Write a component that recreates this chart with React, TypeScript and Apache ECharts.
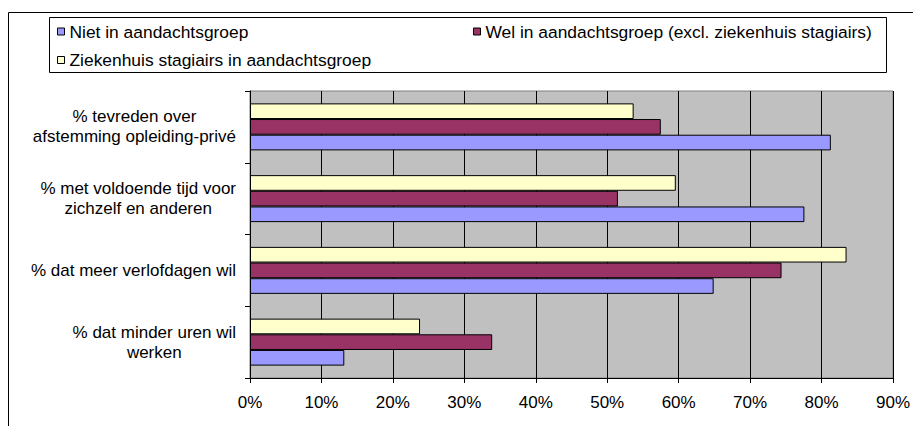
import React, { useEffect, useRef } from "react";
import * as echarts from "echarts";

const categories = [
  "% tevreden over\nafstemming opleiding-privé",
  "% met voldoende tijd voor\nzichzelf en anderen",
  "% dat meer verlofdagen wil",
  "% dat minder uren wil\nwerken",
];
const seriesNames = [
  "Niet in aandachtsgroep",
  "Wel in aandachtsgroep (excl. ziekenhuis stagiairs)",
  "Ziekenhuis stagiairs in aandachtsgroep",
];
const nietValues = [81.3, 77.6, 64.9, 13.2];
const welValues = [57.5, 51.5, 74.4, 33.9];
const ziekenhuisValues = [53.7, 59.6, 83.5, 23.8];
const xTicks = [0, 10, 20, 30, 40, 50, 60, 70, 80, 90];

const colors = ["#9999FF", "#993366", "#FFFFCC"];
const FONT = '"Liberation Sans", Arial, sans-serif';

export default function App() {
  const ref = useRef<HTMLDivElement>(null);
  useEffect(() => {
    if (!ref.current) return;
    const chart = echarts.init(ref.current, null, { renderer: "svg" });
    const values = [nietValues, welValues, ziekenhuisValues];
    const legendPos = [
      { left: 57, top: 23 },
      { left: 473, top: 23 },
      { left: 57, top: 51.5 },
    ];
    // ECharts places the first series at the top of a band; draw in reverse so
    // the first series sits at the bottom as in the reference.
    const drawOrder = [2, 1, 0];
    const option: any = {
      animation: false,
      backgroundColor: "#ffffff",
      textStyle: { fontFamily: FONT },
      graphic: [
        {
          type: "rect",
          z: -10,
          shape: { x: 8.5, y: 12.5, width: 1000, height: 1000 },
          style: { fill: "#ffffff", stroke: "#000000", lineWidth: 1 },
        },
        {
          type: "rect",
          z: -5,
          shape: { x: 49.5, y: 17.5, width: 837, height: 55 },
          style: { fill: "#ffffff", stroke: "#000000", lineWidth: 1 },
        },
      ],
      legend: seriesNames.map((n, i) => ({
        data: [n],
        left: legendPos[i].left,
        top: legendPos[i].top,
        padding: 0,
        icon: "rect",
        itemWidth: 7,
        itemHeight: 7,
        itemStyle: { borderColor: "#000", borderWidth: 1 },
        textStyle: { fontSize: 17.4, color: "#000", fontFamily: FONT },
        selectedMode: false,
      })),
      grid: {
        left: 250,
        right: 20,
        top: 91,
        bottom: 48,
        show: true,
        backgroundColor: "#C0C0C0",
        borderColor: "#808080",
        borderWidth: 1,
        containLabel: false,
      },
      xAxis: {
        type: "value",
        min: 0,
        max: 90,
        interval: 10,
        axisLine: { show: true, lineStyle: { color: "#000", width: 1 } },
        axisTick: { show: true, length: 5, lineStyle: { color: "#000" } },
        splitLine: { show: true, lineStyle: { color: "#000", width: 1 } },
        axisLabel: {
          fontSize: 17,
          color: "#000",
          fontFamily: FONT,
          margin: 16,
          formatter: (v: number) => (xTicks.includes(v) ? `${v}%` : ""),
        },
      },
      yAxis: {
        type: "category",
        inverse: true,
        data: categories,
        axisLine: { show: true, lineStyle: { color: "#000", width: 1 } },
        axisTick: { show: true, length: 5, alignWithLabel: false, lineStyle: { color: "#000" } },
        splitLine: { show: false },
        axisLabel: {
          margin: 14,
          align: "right",
          color: "#000",
          fontFamily: FONT,
          fontSize: 17,
          lineHeight: 20,
          formatter: (v: string) =>
            v
              .split("\n")
              .map((l) => `{c|${l}}`)
              .join("\n"),
          rich: {
            c: { align: "center", fontSize: 17, lineHeight: 20, color: "#000", fontFamily: FONT },
          },
        },
      },
      series: drawOrder.map((i) => ({
        name: seriesNames[i],
        type: "bar",
        data: values[i],
        barGap: "0%",
        barCategoryGap: "34.5%",
        itemStyle: { color: colors[i], borderColor: "#000", borderWidth: 1 },
      })),
    };
    chart.setOption(option);
    return () => chart.dispose();
  }, []);
  return (
    <div
      ref={ref}
      style={{ position: "fixed", left: 0, top: 0, width: 913, height: 426, background: "#fff" }}
    />
  );
}
